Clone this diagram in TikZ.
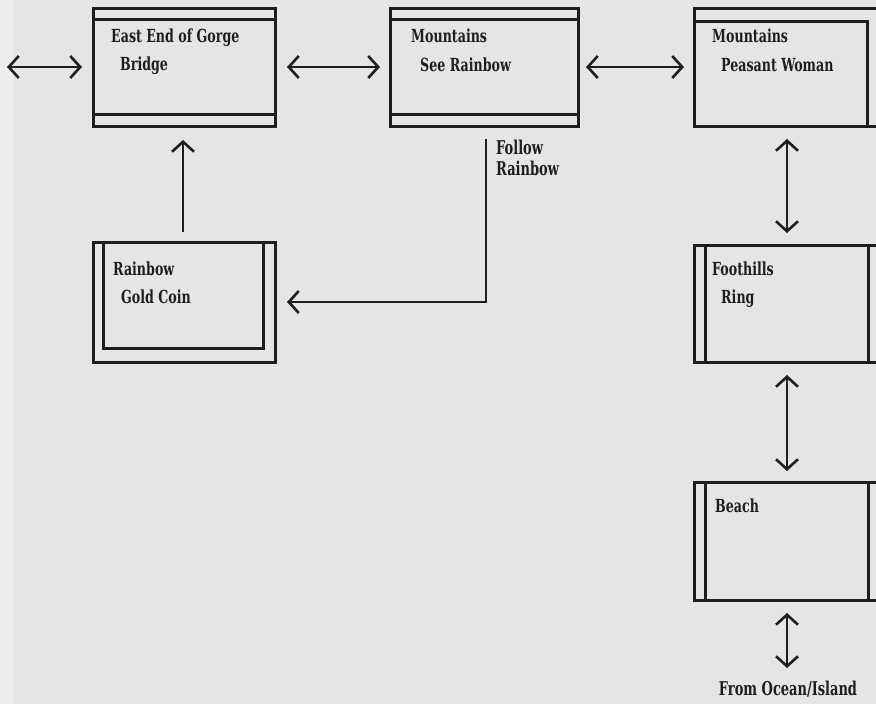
\documentclass[tikz,border=0pt]{standalone}
\usepackage{graphicx}
\usepackage{fontspec}
\setmainfont{DejaVu Serif Condensed}
\usetikzlibrary{arrows.meta,calc}
\definecolor{paper}{HTML}{E5E5E3}
\definecolor{paperedge}{HTML}{ECECEA}
\definecolor{ink}{HTML}{1E1E1E}
% narrow, tall lettering
\newcommand{\roomtext}[1]{\scalebox{0.78}[1]{\fontsize{18}{21}\selectfont\bfseries #1}}
\newcommand{\notetext}[1]{\scalebox{0.76}[1]{\fontsize{19}{22}\selectfont\bfseries #1}}
\begin{document}
\begin{tikzpicture}[x=1pt,y=-1pt,
  room/.style={draw=ink, line width=3pt, inner sep=0pt, outer sep=0pt, anchor=north west},
  rule/.style={draw=ink, line width=3pt},
  lbl/.style={anchor=base west, inner sep=0pt, text=ink},
  barb/.tip={Straight Barb[length=10pt,width=22pt]},
  link/.style={draw=ink, line width=2.6pt, -barb},
  dbl/.style={draw=ink, line width=2.6pt, barb-barb}]
\useasboundingbox (0,0) rectangle (876,704);
\clip (0,0) rectangle (876,704);
\fill[paper] (0,0) rectangle (876,704);
\fill[paperedge] (0,0) rectangle (14,704);

% rooms
\node[room, minimum width=182pt, minimum height=118pt] (gorge) at (93,8) {};
\node[room, minimum width=188pt, minimum height=118pt] (rainbowview) at (390,8) {};
\node[room, minimum width=186pt, minimum height=118pt] (woman) at (694,8) {};
\node[room, minimum width=182pt, minimum height=120pt] (coin) at (93,242) {};
\node[room, minimum width=186pt, minimum height=117pt] (foothills) at (694,245) {};
\node[room, minimum width=186pt, minimum height=118pt] (beach) at (694,482) {};

% inner frame lines
\draw[rule] (93,19) -- (275,19) (93,114) -- (275,114);
\draw[rule] (390,19) -- (578,19) (390,114) -- (578,114);
\draw[rule] (694,21) -- (867,21) -- (867,126);
\draw[rule] (103,242) -- (103,348) -- (263,348) -- (263,242);
\draw[rule] (705,245) -- (705,362) (868,245) -- (868,362);
\draw[rule] (705,482) -- (705,600) (868,482) -- (868,600);

% room texts
\node[lbl] (gorgeA) at (111,42) {\roomtext{East End of Gorge}};
\node[lbl] (gorgeB) at (120,70) {\roomtext{Bridge}};
\node[lbl] (viewA) at (411,42) {\roomtext{Mountains}};
\node[lbl] (viewB) at (420,71) {\roomtext{See Rainbow}};
\node[lbl] (womanA) at (712,42) {\roomtext{Mountains}};
\node[lbl] (womanB) at (721,71) {\roomtext{Peasant Woman}};
\node[lbl] (coinA) at (113,275) {\roomtext{Rainbow}};
\node[lbl] (coinB) at (121,303) {\roomtext{Gold Coin}};
\node[lbl] (hillsA) at (712,275) {\roomtext{Foothills}};
\node[lbl] (hillsB) at (721,303) {\roomtext{Ring}};
\node[lbl] (beachA) at (715,512) {\roomtext{Beach}};
\node[lbl] (followA) at (496,154) {\notetext{Follow}};
\node[lbl] (followB) at (496,175) {\notetext{Rainbow}};
\node[lbl, anchor=base] (ocean) at (788,695) {\notetext{From Ocean/Island}};

% connectors
\coordinate (westend) at (7,67);
\coordinate (southend) at (787,668);
\draw[dbl] (westend) -- ([xshift=-11pt]gorge.west);
\draw[dbl] ([xshift=12pt]gorge.east) -- ([xshift=-10pt]rainbowview.west);
\draw[dbl] ([xshift=8pt]rainbowview.east) -- ([xshift=-10pt]woman.west);
\draw[link] ([yshift=10pt]coin.north -| 183,0) -- ([yshift=-14pt]gorge.south -| 183,0);
\draw[link] ([xshift=2pt,yshift=-13pt]rainbowview.south) |- ([xshift=12pt]coin.east);
\draw[dbl] ([yshift=-13pt]woman.south) -- ([yshift=12pt]foothills.north);
\draw[dbl] ([yshift=-13pt]foothills.south) -- ([yshift=11pt]beach.north);
\draw[dbl] ([yshift=-13pt]beach.south) -- (southend);
\end{tikzpicture}
\end{document}
